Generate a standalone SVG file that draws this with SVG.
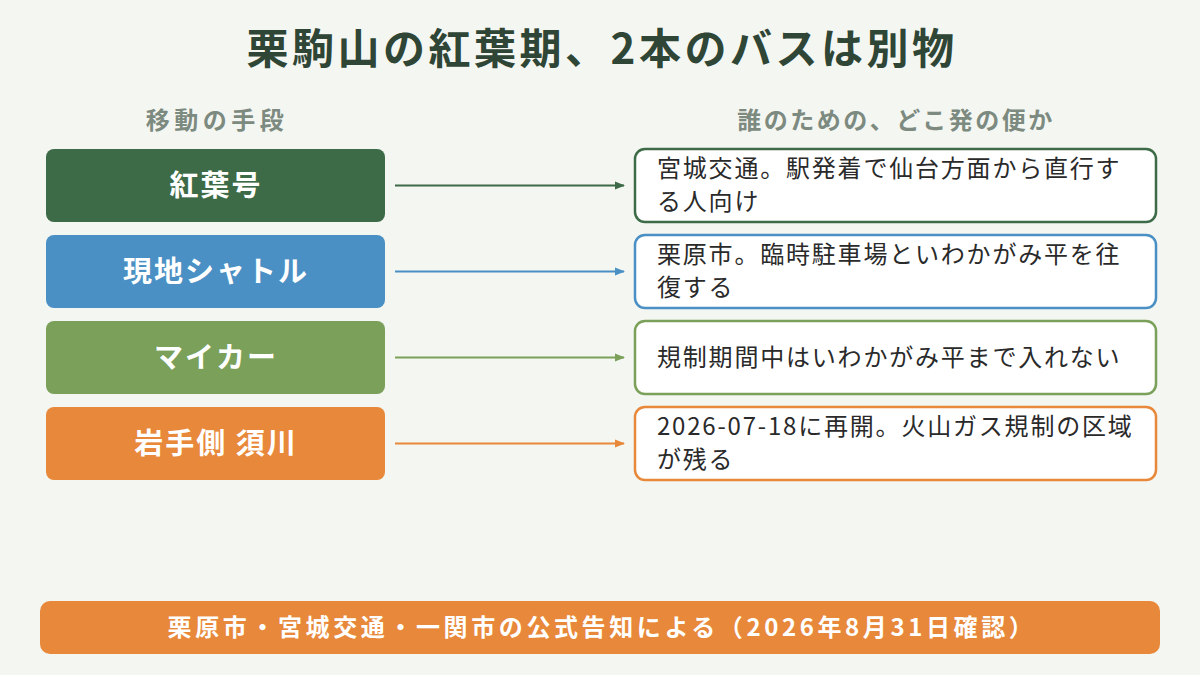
<svg xmlns="http://www.w3.org/2000/svg" width="1200" height="675" viewBox="0 0 1200 675">
<defs>
<style>
text{font-family:"Noto Sans CJK JP","Noto Sans",sans-serif}
.t{font-size:42px;font-weight:700;fill:#2f4535;letter-spacing:3.5px}
.h{font-size:24px;font-weight:700;fill:#7c8a80;letter-spacing:4.5px}
.lab{font-size:29px;font-weight:700;fill:#fff;letter-spacing:2px}
.d{font-size:24px;fill:#2a2a2a;letter-spacing:1.8px}
.rb{fill:#fff;stroke-width:2.5}
</style>
<marker id="a1" markerWidth="10" markerHeight="10" refX="9" refY="5" orient="auto" markerUnits="userSpaceOnUse"><path d="M0,1 L10,5 L0,9z" fill="#3d6b47"/></marker>
<marker id="a2" markerWidth="10" markerHeight="10" refX="9" refY="5" orient="auto" markerUnits="userSpaceOnUse"><path d="M0,1 L10,5 L0,9z" fill="#4a90c4"/></marker>
<marker id="a3" markerWidth="10" markerHeight="10" refX="9" refY="5" orient="auto" markerUnits="userSpaceOnUse"><path d="M0,1 L10,5 L0,9z" fill="#7aa05a"/></marker>
<marker id="a4" markerWidth="10" markerHeight="10" refX="9" refY="5" orient="auto" markerUnits="userSpaceOnUse"><path d="M0,1 L10,5 L0,9z" fill="#e8883a"/></marker>
</defs>
<rect width="1200" height="675" fill="#f4f6f1"/>
<text class="t" x="602" y="64" text-anchor="middle">栗駒山の紅葉期、2本のバスは別物</text>
<text class="h" x="217" y="129" text-anchor="middle">移動の手段</text>
<text class="h" x="896" y="129" text-anchor="middle" style="letter-spacing:2.5px">誰のための、どこ発の便か</text>
<g id="n1"><rect x="46" y="149" width="339" height="73" rx="8" fill="#3d6b47"/><text class="lab" x="216" y="196" text-anchor="middle">紅葉号</text></g>
<g id="n2"><rect x="46" y="235" width="339" height="73" rx="8" fill="#4a90c4"/><text class="lab" x="216" y="282" text-anchor="middle">現地シャトル</text></g>
<g id="n3"><rect x="46" y="321" width="339" height="73" rx="8" fill="#7aa05a"/><text class="lab" x="216" y="368" text-anchor="middle">マイカー</text></g>
<g id="n4"><rect x="46" y="407" width="339" height="73" rx="8" fill="#e8883a"/><text class="lab" x="216" y="454" text-anchor="middle">岩手側 須川</text></g>
<g id="r1"><rect class="rb" x="635" y="149" width="521" height="73" rx="10" stroke="#3d6b47"/><text class="d" x="657" y="177">宮城交通。駅発着で仙台方面から直行す</text><text class="d" x="657" y="210">る人向け</text></g>
<g id="r2"><rect class="rb" x="635" y="235" width="521" height="73" rx="10" stroke="#4a90c4"/><text class="d" x="657" y="263">栗原市。臨時駐車場といわかがみ平を往</text><text class="d" x="657" y="296">復する</text></g>
<g id="r3"><rect class="rb" x="635" y="321" width="521" height="73" rx="10" stroke="#7aa05a"/><text class="d" x="657" y="366">規制期間中はいわかがみ平まで入れない</text></g>
<g id="r4"><rect class="rb" x="635" y="407" width="521" height="73" rx="10" stroke="#e8883a"/><text class="d" x="657" y="435">2026-07-18に再開。火山ガス規制の区域</text><text class="d" x="657" y="468">が残る</text></g>
<g id="connectors" stroke-width="2">
<line x1="395" y1="185.5" x2="624" y2="185.5" stroke="#3d6b47" marker-end="url(#a1)"/>
<line x1="395" y1="271.5" x2="624" y2="271.5" stroke="#4a90c4" marker-end="url(#a2)"/>
<line x1="395" y1="357.5" x2="624" y2="357.5" stroke="#7aa05a" marker-end="url(#a3)"/>
<line x1="395" y1="443.5" x2="624" y2="443.5" stroke="#e8883a" marker-end="url(#a4)"/>
</g>
<g id="footer"><rect x="40" y="601" width="1120" height="53" rx="10" fill="#e8883a"/><text x="602" y="636" text-anchor="middle" style="font-size:24px;font-weight:700;fill:#fff;letter-spacing:3.6px">栗原市・宮城交通・一関市の公式告知による（2026年8月31日確認）</text></g>
</svg>
